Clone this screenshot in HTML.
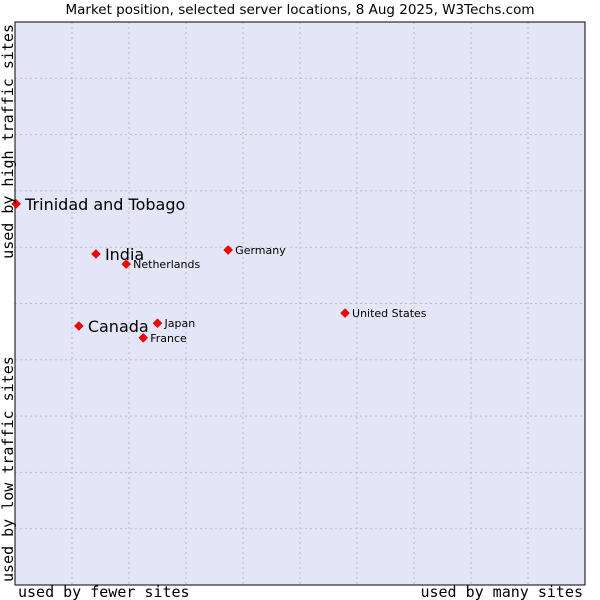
<!DOCTYPE html>
<html><head><meta charset="utf-8"><style>
body{margin:0;background:#fff;width:600px;height:600px;overflow:hidden}
svg{display:block}
</style></head><body>
<svg id="chart" width="600" height="600" xmlns="http://www.w3.org/2000/svg">
<text x="300" y="14" text-anchor="middle" font-family="DejaVu Sans, sans-serif" font-size="13.5" fill="#000">Market position, selected server locations, 8 Aug 2025, W3Techs.com</text>
<rect x="15" y="22" width="570" height="563" fill="#e4e6f8"/>
<g id="grid"></g>
<rect x="15" y="22" width="570" height="563" fill="none" stroke="#000" stroke-width="1"/>
<g id="points"></g>
<text x="18" y="597" font-family="DejaVu Sans Mono, monospace" font-size="15" fill="#000">used by fewer sites</text>
<text x="583" y="597" text-anchor="end" font-family="DejaVu Sans Mono, monospace" font-size="15" fill="#000">used by many sites</text>
<text transform="translate(13,24) rotate(-90)" text-anchor="end" font-family="DejaVu Sans Mono, monospace" font-size="15" fill="#000">used by high traffic sites</text>
<text transform="translate(13,582) rotate(-90)" font-family="DejaVu Sans Mono, monospace" font-size="15" fill="#000">used by low traffic sites</text>
</svg>
<script>
const names = ["Trinidad and Tobago","India","Netherlands","Germany","Canada","Japan","France","United States"];
const xVals = [0.2,14.2,19.5,37.4,11.2,25.0,22.5,57.9];
const yVals = [67.7,58.8,57.0,59.5,46.0,46.5,43.9,48.3];
const big = [true,true,false,false,true,false,false,false];
const X0=15,W=570,Y0=22,H=563;
const xs=v=>X0+v/100*W, ys=v=>Y0+H-v/100*H;
const NS="http://www.w3.org/2000/svg";
const grid=document.getElementById('grid');
for(let i=1;i<10;i++){
  const lv=document.createElementNS(NS,'line');
  
  
  const x=xs(i*10);
  lv.setAttribute('x1',x);lv.setAttribute('x2',x);lv.setAttribute('y1',Y0);lv.setAttribute('y2',Y0+H);
  lv.setAttribute('stroke','#bbb');lv.setAttribute('stroke-dasharray','2,3');
  grid.appendChild(lv);
  const lh=document.createElementNS(NS,'line');
  
  
  const y=ys(i*10);
  lh.setAttribute('x1',X0);lh.setAttribute('x2',X0+W);lh.setAttribute('y1',y);lh.setAttribute('y2',y);
  lh.setAttribute('stroke','#bbb');lh.setAttribute('stroke-dasharray','2,3');
  grid.appendChild(lh);
}
const pts=document.getElementById('points');
names.forEach((n,i)=>{
  const x=xs(xVals[i]),y=ys(yVals[i]);
  const d=document.createElementNS(NS,'path');
  
  
  d.setAttribute('d',`M${x} ${y-4.5}L${x+4.5} ${y}L${x} ${y+4.5}L${x-4.5} ${y}Z`);
  d.setAttribute('fill','#f00');d.setAttribute('stroke','#a00');d.setAttribute('stroke-width','0.5');
  pts.appendChild(d);
  const t=document.createElementNS(NS,'text');
  
  
  t.setAttribute('x',x+(big[i]?9:7));t.setAttribute('y',y+(big[i]?6:4));
  t.setAttribute('font-family','DejaVu Sans, sans-serif');
  t.setAttribute('font-size',big[i]?'16':'11');
  t.textContent=n;
  pts.appendChild(t);
});
</script>
</body></html>
